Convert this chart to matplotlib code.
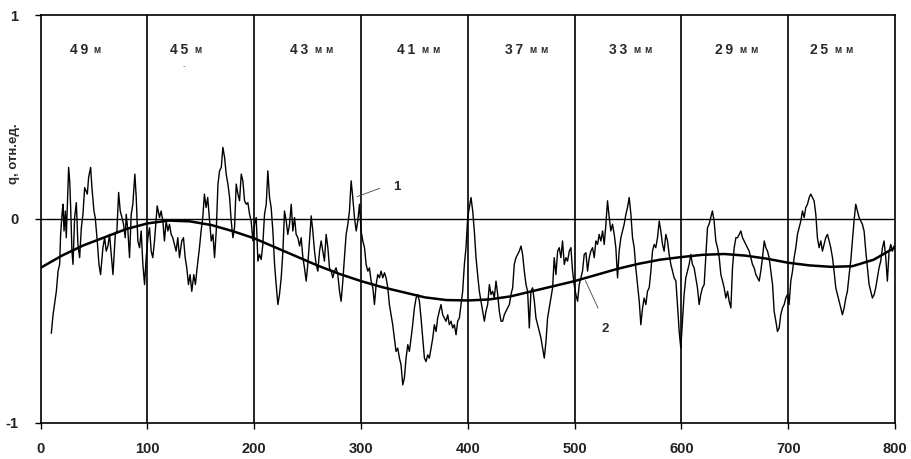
import matplotlib
matplotlib.use("Agg")
import matplotlib.pyplot as plt

plt.rcParams['font.family'] = ['Liberation Sans', 'DejaVu Sans']

seg1_x = [10.1, 11.7, 14.8, 16.4, 17.9, 18.8, 20.1, 21.0, 22.0, 23.2, 24.1, 26.3, 27.3, 28.2, 29.4, 30.4,
          31.9, 33.5, 35.0, 36.6, 38.2, 39.7, 41.3, 43.8, 45.0, 46.9, 48.1, 50.0, 51.2, 53.1, 54.7, 56.2,
          58.4, 60.0, 61.5, 63.1, 64.6, 66.2, 67.8, 70.0, 71.5, 73.1, 74.6, 76.2, 77.7, 79.3, 80.2, 81.8,
          83.3, 84.9, 86.4, 88.3, 89.6, 91.1, 92.7, 94.2, 95.8, 97.4, 98.9, 100.5, 102.0, 103.6, 105.1,
          106.7, 109.2, 111.4, 112.9, 114.5, 116.0, 117.6, 119.2, 120.7, 122.3, 123.8, 125.4, 126.9,
          128.5, 130.1, 132.2, 133.8, 135.4, 136.9, 138.5, 140.0, 141.6, 143.5, 145.0, 146.6, 148.8,
          150.3, 151.9, 153.4, 155.0, 156.5]
seg1_q = [-0.56, -0.47, -0.355, -0.256, -0.223, -0.076, 0.023, 0.072, -0.059, 0.039, -0.092, 0.253, 0.187,
          0.056, -0.158, -0.223, 0.007, 0.080, -0.125, -0.190, -0.043, 0.023, 0.154, 0.122, 0.204, 0.253,
          0.154, 0.039, 0.007, -0.108, -0.223, -0.273, -0.141, -0.092, -0.158, -0.133, -0.076, -0.174,
          -0.273, -0.076, -0.059, 0.130, 0.039, 0.007, -0.026, -0.092, 0.023, -0.059, -0.190, 0.023, 0.072,
          0.220, 0.105, -0.108, -0.141, -0.059, -0.223, -0.322, -0.190, -0.092, -0.043, -0.158, -0.190,
          -0.108, 0.064, 0.007, 0.039, -0.010, -0.108, -0.010, -0.059, -0.026, -0.076, -0.092, -0.125,
          -0.158, -0.092, -0.190, -0.108, -0.092, -0.190, -0.240, -0.322, -0.273, -0.355, -0.273, -0.322,
          -0.240, -0.141, -0.059, 0.007, 0.122, 0.056, 0.105]

seg2_x = [159.8, 161.4, 162.9, 164.5, 166.1, 167.6, 169.2, 170.7, 172.3, 173.8, 175.4, 177.0, 178.5, 180.1,
          181.6, 183.2, 184.8, 186.3, 187.9, 189.4, 191.0, 192.6, 194.1, 195.7, 197.2, 198.8, 200.4, 201.9,
          203.5, 205.0, 206.6, 208.1, 209.7, 211.3, 212.8, 214.4, 215.9, 217.5, 219.1, 220.6, 222.2, 223.7,
          225.3, 226.9, 228.4, 230.0, 231.5, 233.1, 234.7, 236.2, 237.8, 239.3, 240.9, 242.5, 244.0, 245.6,
          247.1, 248.7, 250.2, 251.8, 253.4, 254.9, 256.5, 258.0, 259.6, 261.2, 262.7, 264.3, 265.8, 267.4,
          269.0, 270.5, 272.1, 273.6, 275.2, 276.7, 278.3, 279.9, 281.4, 283.0, 284.5, 286.1, 287.7, 289.2,
          290.8, 292.3, 293.9, 295.5, 297.0, 298.6, 300.1, 301.7, 303.3, 304.8, 306.4, 307.9, 309.5, 311.1,
          312.6, 314.2]
seg2_q = [-0.108, -0.076, -0.190, -0.059, 0.171, 0.236, 0.253, 0.351, 0.302, 0.220, 0.171, 0.105, -0.010,
          -0.092, -0.043, 0.171, 0.122, 0.089, 0.220, 0.187, 0.089, 0.072, 0.080, 0.023, -0.010, -0.108,
          -0.026, 0.007, -0.207, -0.174, -0.199, -0.125, 0.023, 0.072, 0.236, 0.105, 0.056, -0.059, -0.223,
          -0.322, -0.420, -0.371, -0.289, -0.158, 0.039, -0.010, -0.076, -0.026, 0.072, -0.059, 0.007,
          -0.076, -0.092, -0.133, -0.092, -0.190, -0.240, -0.305, -0.223, -0.108, 0.015, -0.059, -0.158,
          -0.223, -0.256, -0.158, -0.108, -0.158, -0.207, -0.076, -0.141, -0.240, -0.256, -0.289, -0.256,
          -0.240, -0.273, -0.355, -0.404, -0.305, -0.190, -0.076, -0.026, 0.039, 0.187, 0.105, 0.007,
          -0.059, -0.010, 0.072, -0.059, -0.108, -0.141, -0.223, -0.256, -0.240, -0.305, -0.338, -0.420,
          -0.322]

seg3_x = [315.7, 317.3, 318.8, 320.4, 322.0, 323.5, 325.1, 326.6, 328.2, 329.7, 331.3, 332.8, 334.4, 336.0,
          337.5, 339.1, 340.6, 342.2, 343.8, 345.3, 346.9, 348.4, 350.0, 351.6, 353.1, 354.7, 356.2, 357.8,
          359.4, 360.9, 362.5, 364.0, 365.6, 367.2, 368.7, 370.3, 371.8, 373.4, 374.9, 376.5, 378.1, 379.6,
          381.2, 382.7, 384.3, 385.9, 387.4, 389.0, 390.5, 392.1, 393.7, 395.2, 396.8, 398.3, 399.9, 401.5,
          403.0, 404.6, 406.1, 407.7, 409.2, 410.8, 412.4, 413.9, 415.5, 417.0, 418.6, 420.2, 421.7, 423.3,
          424.8, 426.4, 428.0, 429.5, 431.1, 432.6, 434.2, 435.7, 437.3, 438.9, 440.4, 442.0, 443.5, 445.1,
          446.7, 448.2, 449.8, 451.3, 452.9, 454.5, 456.0, 457.6, 459.1, 460.7, 462.3, 463.8, 465.4, 466.9,
          468.5, 470.1, 471.6, 473.2, 474.7]
seg3_q = [-0.273, -0.289, -0.256, -0.289, -0.264, -0.289, -0.338, -0.420, -0.470, -0.519, -0.585, -0.650,
          -0.634, -0.683, -0.716, -0.814, -0.782, -0.683, -0.617, -0.650, -0.585, -0.519, -0.437, -0.388,
          -0.371, -0.404, -0.486, -0.585, -0.683, -0.700, -0.667, -0.683, -0.634, -0.585, -0.519, -0.552,
          -0.486, -0.453, -0.420, -0.470, -0.486, -0.502, -0.470, -0.519, -0.502, -0.535, -0.519, -0.568,
          -0.502, -0.486, -0.420, -0.355, -0.223, -0.141, 0.007, 0.056, 0.105, 0.039, -0.059, -0.190,
          -0.273, -0.355, -0.404, -0.453, -0.502, -0.453, -0.420, -0.322, -0.371, -0.355, -0.388, -0.305,
          -0.371, -0.453, -0.502, -0.502, -0.470, -0.453, -0.437, -0.420, -0.371, -0.338, -0.223, -0.190,
          -0.174, -0.158, -0.133, -0.174, -0.256, -0.322, -0.355, -0.535, -0.355, -0.338, -0.404, -0.486,
          -0.519, -0.552, -0.585, -0.634, -0.683, -0.601, -0.486]

seg4_x = [476.3, 477.8, 479.4, 480.9, 482.5, 484.1, 485.6, 487.2, 488.7, 490.3, 491.9, 493.4, 495.0, 496.5,
          498.1, 499.6, 501.2, 502.8, 504.3, 505.9, 507.4, 509.0, 510.6, 512.1, 513.7, 515.2, 516.8, 518.4,
          519.9, 521.5, 523.0, 524.6, 526.2, 527.7, 529.3, 530.8, 532.4, 533.9, 535.5, 537.1, 538.6, 540.2,
          541.7, 543.3, 544.9, 546.4, 548.0, 549.5, 551.1, 552.7, 554.2, 555.8, 557.3, 558.9, 560.5, 562.0,
          563.6, 565.1, 566.7, 568.2, 569.8, 571.4, 572.9, 574.5, 576.0, 577.6, 579.2, 580.7, 582.3, 583.8,
          585.4, 587.0, 588.5, 590.1, 591.6, 593.2, 594.8, 596.3, 597.9, 599.4, 601.0, 602.5, 604.1, 605.7,
          607.2, 608.8, 610.3, 611.9, 613.5, 615.0, 616.6, 618.1, 619.7, 621.3, 622.8, 624.4, 625.9, 627.5,
          629.0, 630.6, 632.2]
seg4_q = [-0.437, -0.388, -0.338, -0.190, -0.273, -0.158, -0.141, -0.190, -0.108, -0.223, -0.190, -0.207,
          -0.158, -0.141, -0.256, -0.322, -0.371, -0.404, -0.322, -0.289, -0.256, -0.174, -0.166, -0.256,
          -0.190, -0.158, -0.141, -0.190, -0.108, -0.125, -0.076, -0.108, -0.059, -0.125, -0.026, 0.089,
          0.007, -0.059, -0.026, -0.076, -0.141, -0.289, -0.158, -0.092, -0.059, -0.026, 0.023, 0.056,
          0.105, 0.023, -0.092, -0.141, -0.240, -0.322, -0.404, -0.519, -0.437, -0.388, -0.420, -0.355,
          -0.338, -0.256, -0.158, -0.125, -0.141, -0.092, -0.010, -0.059, -0.125, -0.158, -0.076, -0.108,
          -0.174, -0.223, -0.256, -0.289, -0.305, -0.420, -0.552, -0.634, -0.502, -0.371, -0.289, -0.256,
          -0.223, -0.174, -0.223, -0.240, -0.289, -0.338, -0.420, -0.371, -0.338, -0.322, -0.190, -0.043,
          -0.026, 0.007, 0.039, -0.010, -0.108]

seg5_x = [633.8, 635.4, 636.9, 638.5, 640.0, 641.6, 643.2, 644.7, 646.3, 647.8, 649.4, 651.0, 652.5, 654.1,
          655.6, 657.2, 658.7, 660.3, 661.9, 663.4, 665.0, 666.5, 668.1, 669.7, 671.2, 672.8, 674.3, 675.9,
          677.5, 679.0, 680.6, 682.1, 683.7, 685.3, 686.8, 688.4, 689.9, 691.5, 693.0, 694.6, 696.2, 697.7,
          699.3, 700.8, 702.4, 704.0, 705.5, 707.1, 708.6, 710.2, 711.8, 713.3, 714.9, 716.4, 718.0, 719.6,
          721.1, 722.7, 724.2, 725.8, 727.3, 728.9, 730.5, 732.0, 733.6, 735.1, 736.7, 738.3, 739.8, 741.4,
          742.9, 744.5, 746.1, 747.6, 749.2, 750.7, 752.3, 753.9, 755.4, 757.0, 758.5, 760.1, 761.6, 763.2,
          764.8, 766.3, 767.9, 769.4, 771.0, 772.6, 774.1, 775.7, 777.2, 778.8, 780.4, 781.9, 783.5, 785.0,
          786.6, 788.2, 789.7, 791.3, 792.8, 794.4, 796.0, 797.5, 799.1]
seg5_q = [-0.141, -0.190, -0.273, -0.305, -0.338, -0.388, -0.355, -0.404, -0.437, -0.240, -0.141, -0.092,
          -0.092, -0.076, -0.059, -0.092, -0.108, -0.125, -0.141, -0.158, -0.190, -0.223, -0.240, -0.273,
          -0.289, -0.305, -0.256, -0.190, -0.108, -0.141, -0.158, -0.190, -0.256, -0.322, -0.453, -0.502,
          -0.552, -0.535, -0.470, -0.437, -0.420, -0.388, -0.371, -0.420, -0.305, -0.256, -0.190, -0.141,
          -0.076, -0.043, -0.010, 0.039, 0.007, 0.056, 0.072, 0.105, 0.122, 0.105, 0.089, 0.023, -0.092,
          -0.141, -0.108, -0.158, -0.125, -0.092, -0.076, -0.108, -0.141, -0.190, -0.256, -0.338, -0.371,
          -0.404, -0.437, -0.470, -0.437, -0.388, -0.355, -0.273, -0.207, -0.108, -0.010, 0.072, 0.039,
          0.007, -0.010, -0.026, -0.059, -0.158, -0.240, -0.322, -0.355, -0.388, -0.371, -0.338, -0.289,
          -0.240, -0.207, -0.141, -0.108, -0.190, -0.305, -0.158, -0.125, -0.158, -0.133]

# ---- data: curve 2 (smooth approximation) ----
smooth_x = [0, 20, 40, 60, 80, 100, 120, 140, 160, 180, 200, 220, 240, 260, 280, 300, 320, 340, 360, 380,
            400, 420, 440, 460, 480, 500, 520, 540, 560, 580, 600, 620, 640, 660, 680, 700, 720, 740, 760,
            780, 800]
smooth_q = [-0.24, -0.18, -0.13, -0.09, -0.05, -0.022, -0.008, -0.012, -0.03, -0.06, -0.095, -0.14, -0.185,
            -0.23, -0.27, -0.305, -0.335, -0.36, -0.385, -0.398, -0.40, -0.395, -0.38, -0.355, -0.33, -0.305,
            -0.275, -0.245, -0.22, -0.2, -0.187, -0.176, -0.172, -0.18, -0.195, -0.215, -0.228, -0.235,
            -0.232, -0.2, -0.14]

# ---- text ----
zone_x = [40, 134, 246, 346, 447, 545, 644, 733]
zone_num = ["49", "45", "43", "41", "37", "33", "29", "25"]
zone_unit = ["м", "м", "м\u2009\u2009м", "м\u2009\u2009м", "м\u2009\u2009м", "м\u2009\u2009м",
             "м\u2009\u2009м", "м\u2009\u2009м"]
dividers = [100, 200, 300, 400, 500, 600, 700]
x_ticks = [0, 100, 200, 300, 400, 500, 600, 700, 800]
y_ticks = [-1, 0, 1]

noisy_x = seg1_x + seg2_x + seg3_x + seg4_x + seg5_x
noisy_q = seg1_q + seg2_q + seg3_q + seg4_q + seg5_q

fig = plt.figure(figsize=(9.11, 4.59), dpi=100)
ax = fig.add_axes([0.0445, 0.079, 0.938, 0.888])
ax.set_xlim(0, 800)
ax.set_ylim(-1, 1)

for d in dividers:
    ax.axvline(d, color='black', lw=1.2, zorder=1)
ax.axhline(0, color='black', lw=1.0, zorder=1)

ax.plot(noisy_x, noisy_q, color='black', lw=1.0, zorder=3)
ax.plot(smooth_x, smooth_q, color='black', lw=1.8, zorder=4)

txt_col = '#2a2a2a'
for zx, zn, zu in zip(zone_x, zone_num, zone_unit):
    ax.annotate("\u2009".join(zn), xy=(zx, 0.83), xycoords='data', xytext=(-3, 0),
                textcoords='offset points', ha='center', va='center',
                fontsize=10, fontweight='bold', color=txt_col)
    ax.annotate(zu, xy=(zx, 0.83), xycoords='data', xytext=(10 if len(zu) == 1 else 15, -0.5),
                textcoords='offset points', ha='center', va='center',
                fontsize=7, fontweight='bold', color=txt_col)
ax.text(135, 0.755, '..', ha='center', va='center', fontsize=5, color='#444444')

# annotations "1" and "2"
ax.annotate('', xy=(294, 0.105), xytext=(320, 0.155),
            arrowprops=dict(arrowstyle='-', lw=0.6, color='#444444'))
ax.text(334, 0.155, '1', ha='center', va='center', fontsize=9.5, fontweight='bold', color=txt_col)
ax.annotate('', xy=(509, -0.29), xytext=(523, -0.45),
            arrowprops=dict(arrowstyle='-', lw=0.6, color='#444444'))
ax.text(529, -0.54, '2', ha='center', va='center', fontsize=9.5, fontweight='bold', color=txt_col)

ax.set_xticks(x_ticks)
ax.set_yticks(y_ticks)
ax.set_yticklabels([str(t) for t in y_ticks])
ax.tick_params(axis='both', direction='out', length=4, width=1, labelsize=10.5)
ax.tick_params(axis='x', pad=10)
ax.tick_params(axis='y', pad=12)
for lab in ax.get_xticklabels() + ax.get_yticklabels():
    lab.set_fontweight('bold')
    lab.set_color('#222222')
    lab.set_family(['Liberation Sans Narrow', 'Liberation Sans', 'DejaVu Sans'])
for sp in ax.spines.values():
    sp.set_linewidth(1.2)

ax.set_ylabel('q, отн.ед.', fontsize=9.5, fontweight='bold', color=txt_col)
ax.yaxis.set_label_coords(-0.024, 0.66)

fig.savefig('out.png', dpi=100)
